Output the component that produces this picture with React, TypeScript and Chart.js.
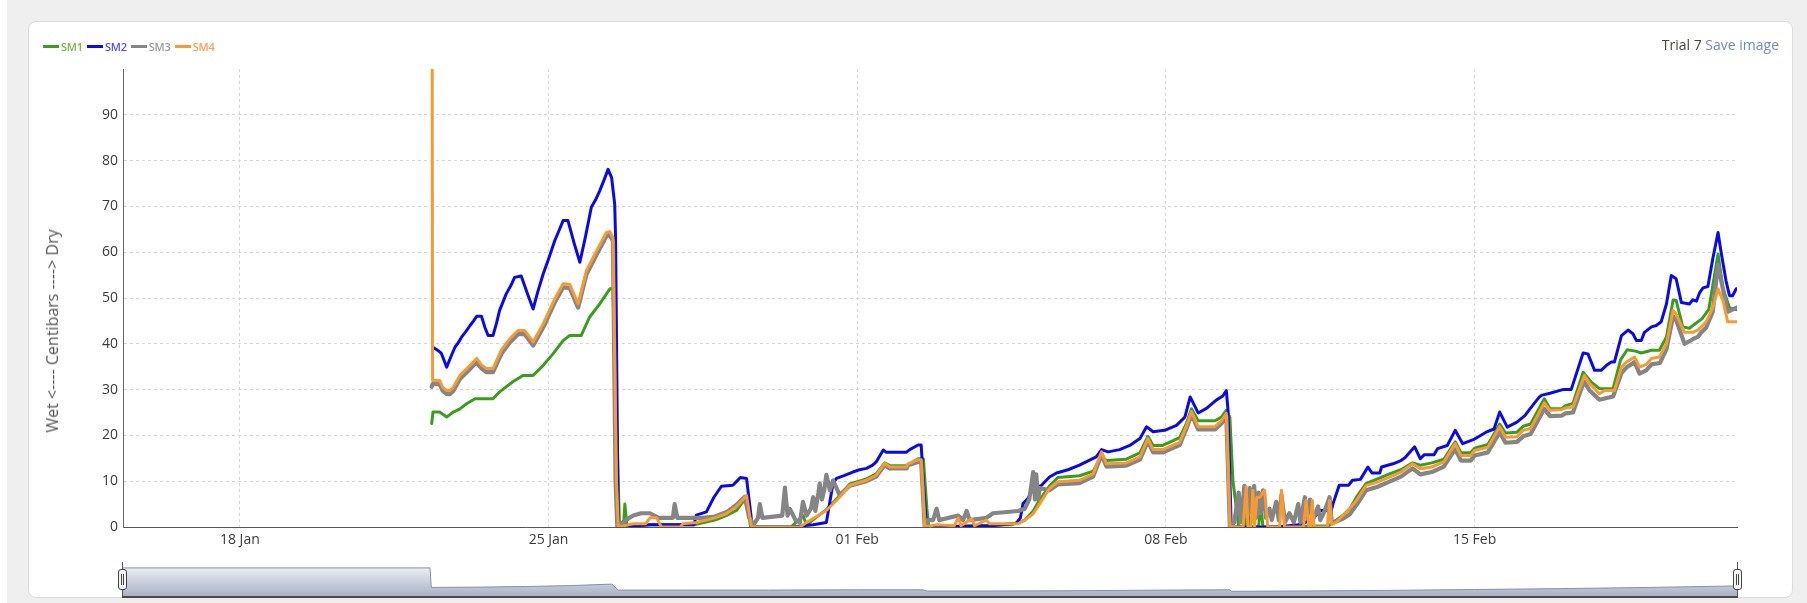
import React, { useEffect, useRef } from 'react';
import { Chart, registerables } from 'chart.js';

Chart.register(...registerables);

// ---------- axis data ----------
const X_MIN = 15.35; // days since 1 Jan (15 Jan ~08:00)
const X_MAX = 51.95; // 20 Feb ~23:00
const xTickDays = [18, 25, 32, 39, 46];
const xTickLabels = ['18 Jan', '25 Jan', '01 Feb', '08 Feb', '15 Feb'];
const Y_MAX = 100;
const Y_STEP = 10;

// ---------- series ----------
const seriesNames = ['SM1', 'SM2', 'SM3', 'SM4'];
const seriesColors = ['#3a9d1d', '#0a0ae8', '#858585', '#f89a32'];
const legendTextColors = ['#6cbd42', '#4f4ff6', '#9b9b9b', '#ff9d52'];

const sm1Days = [22.35, 22.38, 22.53, 22.69, 22.84, 22.99, 23.14, 23.33, 23.74, 23.89, 24.19, 24.42, 24.65, 24.88, 25.10, 25.33, 25.48, 25.74, 25.93, 26.16, 26.39, 26.46, 26.61, 26.70, 26.73, 26.78, 27.30, 28.30, 28.77, 29.03, 29.26, 29.49, 29.58, 30.50, 30.77, 30.85, 31.30, 31.60, 31.83, 32.21, 32.43, 32.62, 32.74, 33.12, 33.38, 33.50, 33.58, 33.62, 35.50, 35.80, 35.99, 36.14, 36.36, 36.55, 37.04, 37.35, 37.54, 37.65, 38.10, 38.41, 38.59, 38.71, 38.93, 39.31, 39.46, 39.58, 39.73, 40.11, 40.26, 40.37, 40.45, 40.52, 40.60, 40.65, 40.80, 40.85, 40.90, 41.10, 41.15, 41.20, 42.70, 42.86, 43.01, 43.17, 43.32, 43.54, 43.80, 44.07, 44.33, 44.59, 44.77, 45.03, 45.30, 45.56, 45.69, 45.91, 46.00, 46.30, 46.57, 46.70, 46.96, 47.10, 47.27, 47.58, 47.71, 47.97, 48.06, 48.23, 48.46, 48.64, 48.83, 49.14, 49.31, 49.46, 49.65, 49.78, 50.01, 50.19, 50.35, 50.50, 50.57, 50.72, 50.87, 50.98, 51.16, 51.31, 51.52, 51.63, 51.78, 51.97];
const sm1Values = [22.6, 25.1, 25.1, 24.0, 25.1, 25.8, 26.9, 28.0, 28.0, 29.5, 31.7, 33.1, 33.1, 35.3, 37.8, 40.7, 41.8, 41.8, 45.8, 48.7, 52.0, 52.0, 0, 0, 5.0, 0, 0.5, 0.5, 1.5, 2.5, 3.6, 6.6, 0, 0, 2.5, 0.5, 3.8, 6.8, 9.4, 10.5, 11.6, 14.0, 13.4, 13.4, 14.9, 14.9, 4.0, 0, 0.5, 1.5, 3.5, 6.0, 9.0, 10.8, 11.2, 12.2, 15.5, 14.5, 14.8, 16.2, 19.8, 17.8, 17.8, 19.5, 22.5, 25.8, 23.2, 23.2, 24.0, 25.5, 24.0, 10.0, 4.0, 0, 0, 4.0, 0, 0, 5.0, 0, 0.3, 1.5, 2.5, 4.0, 6.5, 9.5, 10.5, 11.6, 12.5, 14.0, 13.5, 14.0, 14.8, 18.6, 16.2, 16.2, 17.2, 18.0, 22.5, 20.5, 20.7, 22.0, 22.5, 28.0, 25.8, 25.8, 26.5, 27.0, 33.8, 31.7, 30.2, 30.2, 36.5, 38.7, 38.4, 38.0, 38.6, 38.6, 41.5, 49.5, 49.5, 43.7, 43.4, 44.2, 45.5, 47.5, 59.6, 52.2, 47.8, 47.4];

const sm2Days = [22.37, 22.50, 22.57, 22.69, 22.80, 22.88, 22.95, 23.03, 23.12, 23.22, 23.30, 23.37, 23.48, 23.56, 23.63, 23.74, 23.82, 23.89, 23.97, 24.04, 24.14, 24.23, 24.38, 24.52, 24.65, 24.76, 24.88, 25.01, 25.14, 25.24, 25.33, 25.44, 25.58, 25.71, 25.84, 25.97, 26.07, 26.16, 26.26, 26.35, 26.43, 26.50, 26.52, 26.58, 27.30, 27.60, 28.30, 28.35, 28.58, 28.75, 28.92, 29.18, 29.26, 29.35, 29.49, 29.56, 29.62, 30.50, 31.00, 31.30, 31.45, 31.53, 31.70, 31.90, 32.05, 32.21, 32.35, 32.43, 32.59, 32.66, 33.11, 33.19, 33.38, 33.45, 33.50, 33.57, 35.08, 35.60, 35.70, 35.76, 35.87, 35.99, 36.18, 36.36, 36.52, 36.78, 37.04, 37.27, 37.42, 37.54, 37.69, 37.95, 38.18, 38.41, 38.56, 38.71, 38.97, 39.24, 39.43, 39.55, 39.73, 39.92, 40.14, 40.29, 40.37, 40.41, 40.48, 41.50, 42.00, 42.30, 42.50, 42.75, 42.79, 42.93, 43.14, 43.23, 43.41, 43.58, 43.67, 43.85, 43.89, 44.15, 44.33, 44.42, 44.64, 44.77, 44.86, 45.08, 45.16, 45.38, 45.56, 45.73, 46.00, 46.26, 46.44, 46.57, 46.74, 46.96, 47.14, 47.32, 47.47, 47.53, 47.71, 48.00, 48.19, 48.46, 48.57, 48.72, 48.87, 48.99, 49.10, 49.17, 49.33, 49.48, 49.59, 49.67, 49.78, 49.85, 50.01, 50.12, 50.23, 50.35, 50.46, 50.57, 50.69, 50.87, 50.95, 51.03, 51.10, 51.18, 51.29, 51.40, 51.52, 51.59, 51.70, 51.78, 51.85, 51.93, 51.97];
const sm2Values = [39.3, 38.5, 37.9, 34.9, 37.5, 39.3, 40.2, 41.5, 42.6, 44.0, 45.0, 46.0, 46.0, 43.5, 41.8, 41.8, 44.5, 47.3, 49.2, 50.9, 52.6, 54.5, 54.8, 51.0, 47.6, 51.5, 55.3, 58.8, 62.5, 64.8, 66.9, 66.9, 62.0, 57.8, 63.5, 69.8, 71.5, 73.4, 75.8, 78.1, 76.3, 70.5, 63.2, 0, 0.5, 0.5, 0.5, 2.6, 3.3, 6.5, 8.9, 9.1, 9.9, 10.8, 10.6, 5.0, 0, 0, 0.5, 1.0, 9.5, 10.6, 11.2, 12.0, 12.5, 12.8, 13.5, 14.2, 16.8, 16.3, 16.3, 16.9, 17.9, 17.9, 10.0, 0, 0.3, 0.8, 2.0, 5.1, 6.2, 8.4, 9.1, 10.9, 11.8, 12.5, 13.5, 14.6, 15.3, 16.9, 16.4, 16.9, 17.8, 19.3, 21.9, 20.8, 21.1, 22.2, 24.0, 28.4, 24.9, 25.9, 27.7, 28.6, 29.8, 25.3, 0, 0, 0.5, 1.5, 3.6, 3.6, 5.1, 9.1, 9.1, 10.2, 10.4, 13.1, 11.8, 11.8, 13.1, 13.8, 14.5, 15.1, 17.5, 14.9, 15.8, 15.8, 17.1, 17.8, 21.1, 18.2, 19.2, 20.7, 21.4, 25.1, 21.8, 22.9, 24.3, 26.6, 28.4, 28.8, 29.2, 30.0, 30.0, 38.0, 37.8, 34.2, 34.2, 35.3, 36.0, 36.0, 41.8, 43.0, 42.2, 40.7, 40.7, 42.5, 43.7, 44.0, 44.8, 48.7, 54.9, 54.2, 49.0, 48.7, 49.6, 49.3, 51.1, 52.2, 52.5, 58.5, 64.3, 60.0, 53.8, 50.5, 50.5, 52.0, 52.0];

const sm3Days = [22.35, 22.37, 22.53, 22.60, 22.69, 22.76, 22.84, 22.99, 23.18, 23.37, 23.48, 23.59, 23.74, 23.93, 24.12, 24.31, 24.46, 24.65, 24.88, 25.14, 25.33, 25.48, 25.67, 25.86, 26.09, 26.31, 26.39, 26.46, 26.52, 26.56, 26.75, 26.92, 27.10, 27.30, 27.50, 27.82, 27.86, 27.92, 28.50, 28.77, 29.03, 29.26, 29.45, 29.55, 29.65, 29.75, 29.79, 29.85, 30.30, 30.36, 30.42, 30.47, 30.60, 30.70, 30.77, 30.85, 30.95, 31.00, 31.05, 31.12, 31.15, 31.20, 31.25, 31.30, 31.38, 31.45, 31.60, 31.83, 32.21, 32.43, 32.62, 32.74, 33.12, 33.15, 33.38, 33.45, 33.53, 33.60, 33.72, 33.80, 33.86, 34.29, 34.40, 34.48, 34.55, 34.93, 35.08, 35.65, 35.80, 35.90, 35.99, 36.03, 36.06, 36.10, 36.14, 36.36, 36.55, 37.04, 37.35, 37.54, 37.65, 38.10, 38.41, 38.59, 38.71, 38.93, 39.31, 39.46, 39.58, 39.73, 40.11, 40.26, 40.37, 40.45, 40.55, 40.65, 40.70, 40.78, 40.84, 40.90, 40.95, 41.00, 41.05, 41.10, 41.15, 41.20, 41.27, 41.35, 41.40, 41.50, 41.56, 41.62, 41.70, 41.80, 41.90, 42.00, 42.05, 42.15, 42.20, 42.27, 42.33, 42.45, 42.50, 42.60, 42.71, 42.76, 42.86, 43.01, 43.17, 43.32, 43.54, 43.80, 44.07, 44.33, 44.59, 44.77, 45.03, 45.30, 45.56, 45.69, 45.91, 46.00, 46.30, 46.57, 46.70, 46.96, 47.10, 47.27, 47.58, 47.71, 47.97, 48.06, 48.23, 48.48, 48.61, 48.83, 49.14, 49.33, 49.44, 49.63, 49.74, 49.89, 50.01, 50.20, 50.35, 50.50, 50.57, 50.76, 50.95, 51.06, 51.14, 51.25, 51.40, 51.52, 51.63, 51.74, 51.85, 51.97];
const sm3Values = [30.6, 31.2, 31.2, 29.7, 29.0, 29.0, 29.7, 32.3, 34.1, 36.0, 34.6, 33.8, 33.8, 37.8, 40.3, 42.1, 42.1, 39.6, 43.6, 49.0, 52.3, 52.2, 47.9, 55.2, 59.5, 63.5, 63.8, 62.5, 10.0, 0, 1.5, 2.5, 3.0, 3.0, 2.0, 2.0, 5.0, 2.0, 2.0, 2.3, 3.2, 4.8, 6.6, 2.0, 0.5, 2.0, 5.0, 2.0, 2.5, 8.6, 2.5, 4.0, 1.5, 1.0, 5.5, 2.5, 4.0, 6.5, 3.5, 7.5, 9.5, 6.0, 8.0, 11.4, 8.0, 10.2, 7.0, 9.0, 10.0, 11.0, 13.5, 12.8, 12.8, 13.5, 14.2, 14.2, 0, 1.5, 1.5, 4.0, 1.5, 2.5, 1.5, 3.5, 1.5, 2.0, 3.0, 3.5, 4.0, 6.0, 12.0, 6.0, 11.5, 6.0, 8.5, 8.0, 9.3, 9.6, 11.0, 15.8, 13.2, 13.4, 14.7, 18.7, 16.3, 16.3, 17.9, 21.3, 24.6, 21.3, 21.3, 22.6, 24.2, 0, 1.0, 7.5, 1.0, 9.0, 2.0, 8.5, 3.0, 9.0, 2.0, 7.5, 3.0, 8.0, 2.0, 4.0, 1.5, 5.5, 1.5, 7.0, 1.0, 3.0, 1.0, 5.0, 1.0, 6.5, 2.0, 6.0, 1.5, 4.5, 1.5, 3.5, 6.5, 1.0, 1.2, 1.8, 2.8, 4.8, 8.0, 8.8, 9.9, 11.0, 12.8, 11.5, 12.0, 13.2, 17.0, 14.5, 14.5, 15.6, 16.3, 20.7, 18.4, 18.6, 19.8, 20.3, 25.8, 24.2, 24.3, 24.8, 25.0, 31.8, 29.8, 27.8, 28.5, 33.6, 34.8, 36.0, 33.5, 34.2, 35.5, 35.8, 38.8, 46.0, 45.2, 40.0, 41.0, 41.5, 42.5, 43.5, 47.0, 57.3, 52.0, 47.0, 47.5, 48.0];

const sm4Days = [22.35, 22.37, 22.53, 22.60, 22.69, 22.76, 22.84, 22.99, 23.18, 23.37, 23.48, 23.59, 23.74, 23.93, 24.12, 24.31, 24.46, 24.65, 24.88, 25.14, 25.33, 25.48, 25.67, 25.86, 26.09, 26.31, 26.39, 26.46, 26.54, 26.58, 26.92, 27.20, 27.30, 27.45, 27.56, 27.98, 28.05, 28.35, 28.77, 29.03, 29.26, 29.49, 29.60, 30.70, 30.85, 31.30, 31.60, 31.83, 32.21, 32.43, 32.62, 32.74, 33.12, 33.15, 33.38, 33.45, 33.53, 33.80, 34.20, 34.29, 34.35, 34.60, 34.66, 34.93, 35.00, 35.65, 35.80, 35.99, 36.14, 36.36, 36.55, 37.04, 37.35, 37.54, 37.65, 38.10, 38.41, 38.59, 38.71, 38.93, 39.31, 39.46, 39.58, 39.73, 40.11, 40.26, 40.37, 40.45, 40.75, 40.82, 40.86, 40.93, 40.97, 41.01, 41.06, 41.13, 41.24, 41.31, 41.58, 41.62, 41.69, 42.12, 42.18, 42.24, 42.28, 42.32, 42.36, 42.66, 42.71, 42.76, 42.86, 43.01, 43.10, 43.32, 43.54, 43.80, 44.07, 44.33, 44.59, 44.77, 45.03, 45.30, 45.56, 45.69, 45.91, 46.00, 46.30, 46.57, 46.70, 46.96, 47.10, 47.27, 47.58, 47.71, 47.97, 48.06, 48.23, 48.49, 48.61, 48.83, 48.95, 49.17, 49.33, 49.44, 49.63, 49.74, 49.89, 50.01, 50.19, 50.35, 50.50, 50.57, 50.76, 50.95, 51.06, 51.14, 51.25, 51.40, 51.52, 51.63, 51.74, 51.97];
const sm4Values = [200, 32.0, 32.0, 30.5, 29.8, 29.8, 30.5, 33.1, 34.9, 36.8, 35.4, 34.6, 34.6, 38.6, 41.1, 42.9, 42.9, 40.4, 44.4, 49.8, 53.1, 53.0, 48.7, 56.0, 60.3, 64.3, 64.5, 63.2, 10.0, 0, 0.7, 0.7, 2.0, 2.0, 0, 0, 0.7, 1.0, 2.0, 2.9, 4.4, 6.9, 0, 0, 1.0, 3.6, 6.5, 9.1, 10.2, 11.3, 13.9, 13.1, 13.1, 13.8, 14.7, 14.7, 0, 0.5, 0.3, 2.0, 0.3, 1.8, 0.3, 1.5, 0.7, 0.7, 1.5, 2.9, 5.1, 8.4, 9.9, 10.2, 11.6, 16.4, 13.8, 14.0, 15.3, 19.3, 16.9, 16.9, 18.5, 21.9, 25.2, 21.9, 21.9, 23.2, 24.8, 0, 0, 8.8, 0, 0, 8.0, 0, 6.5, 6.5, 8.0, 0, 0, 8.0, 0, 0, 5.8, 0, 0, 5.8, 0, 0, 5.8, 0.5, 1.0, 2.5, 3.3, 5.8, 9.1, 9.8, 10.9, 12.0, 13.8, 12.7, 13.1, 14.2, 18.2, 15.6, 15.6, 16.7, 17.4, 21.9, 19.6, 19.7, 21.1, 21.5, 27.1, 25.5, 25.6, 26.0, 26.2, 33.1, 31.3, 29.1, 29.8, 29.8, 34.9, 36.0, 37.1, 34.9, 35.5, 36.8, 37.1, 40.0, 47.3, 46.5, 42.5, 42.5, 43.0, 43.7, 44.8, 47.8, 52.0, 49.5, 44.8, 44.8];

const seriesDays = [sm1Days, sm2Days, sm3Days, sm4Days];
const seriesValues = [sm1Values, sm2Values, sm3Values, sm4Values];
const seriesWidths = [3, 3, 4.2, 3];

// ---------- navigator (overview) series ----------
const navDays = [15.35, 22.33, 22.36, 23.5, 24.5, 25.5, 26.45, 26.6, 28, 30, 32, 33.5, 33.6, 35, 37, 39, 40.45, 40.5, 42, 44, 46, 48, 50, 51.95];
const navValues = [97, 97, 32, 33, 35, 38, 43, 23, 23, 23, 24, 24, 20, 20, 21, 23, 24, 19, 20, 22, 25, 28, 32, 37];

const FONT = "'Open Sans', 'Noto Sans', sans-serif";

function dayLabel(v: number): string {
  const i = xTickDays.indexOf(v);
  return i >= 0 ? xTickLabels[i] : '';
}

export default function App() {
  const mainRef = useRef<HTMLCanvasElement | null>(null);
  const navRef = useRef<HTMLCanvasElement | null>(null);

  useEffect(() => {
    if (!mainRef.current || !navRef.current) return;
    const datasets = seriesNames.map((name, i) => ({
      label: name,
      data: seriesDays[i].map((d, j) => ({ x: d, y: seriesValues[i][j] })),
      borderColor: seriesColors[i],
      backgroundColor: seriesColors[i],
      borderWidth: seriesWidths[i],
      pointRadius: 0,
      tension: 0,
      fill: false,
      borderJoinStyle: 'round' as const,
      borderCapStyle: 'round' as const,
      order: 3 - i,
    }));

    const main = new Chart(mainRef.current, {
      type: 'line',
      data: { datasets },
      options: {
        animation: false,
        responsive: false,
        maintainAspectRatio: false,
        devicePixelRatio: 1,
        layout: { padding: { top: 69, right: 70, bottom: 0, left: 0 } },
        plugins: { legend: { display: false }, tooltip: { enabled: false }, title: { display: false } },
        scales: {
          x: {
            type: 'linear',
            min: X_MIN,
            max: X_MAX,
            afterBuildTicks: (s: any) => {
              s.ticks = xTickDays.map((v) => ({ value: v }));
            },
            afterFit: (s: any) => {
              s.height = 33;
            },
            ticks: {
              callback: (v: any) => dayLabel(Number(v)),
              color: '#3a3a3a',
              font: { family: FONT, size: 14 },
              padding: 5,
              maxRotation: 0,
              autoSkip: false,
            },
            grid: { color: '#d6d6d6', lineWidth: 1, drawTicks: false },
            border: { display: true, color: '#555', width: 1, dash: [3, 3] },
          },
          y: {
            min: 0,
            max: Y_MAX,
            afterFit: (s: any) => {
              s.width = 123;
            },
            ticks: {
              stepSize: Y_STEP,
              callback: (v: any) => (Number(v) === Y_MAX ? '' : String(v)),
              color: '#3a3a3a',
              font: { family: FONT, size: 14 },
              padding: 5,
            },
            grid: {
              drawTicks: false,
              lineWidth: 1,
              color: (c: any) => (c.tick && (c.tick.value === Y_MAX || c.tick.value === 0) ? 'rgba(0,0,0,0)' : '#d6d6d6'),
            },
            border: { display: true, color: '#666', width: 1, dash: [3, 3] },
          },
        },
      },
    });

    const nav = new Chart(navRef.current, {
      type: 'line',
      data: {
        datasets: [
          {
            data: navDays.map((d, j) => ({ x: d, y: navValues[j] })),
            borderColor: '#8291b0',
            borderWidth: 1,
            pointRadius: 0,
            tension: 0,
            fill: 'origin',
            backgroundColor: (c: any) => {
              const area = c.chart.chartArea;
              if (!area) return '#c4cbd9';
              const g = c.chart.ctx.createLinearGradient(0, area.top, 0, area.bottom);
              g.addColorStop(0, '#eceef3');
              g.addColorStop(1, '#a6b0c5');
              return g;
            },
          },
        ],
      },
      options: {
        animation: false,
        responsive: false,
        maintainAspectRatio: false,
        devicePixelRatio: 1,
        layout: { padding: { top: 7, right: 70, bottom: 6, left: 122 } },
        plugins: { legend: { display: false }, tooltip: { enabled: false } },
        scales: {
          x: { type: 'linear', min: X_MIN, max: X_MAX, display: false },
          y: { min: 0, max: 100, display: false },
        },
      },
    });

    return () => {
      main.destroy();
      nav.destroy();
    };
  }, []);

  const handle = (left: number) => (
    <>
      <div style={{ position: 'absolute', left: left, top: 562, width: 1, height: 35, background: '#555' }} />
      <div
        style={{
          position: 'absolute',
          left: left - 4,
          top: 569,
          width: 9,
          height: 21,
          background: '#f4f4f4',
          border: '1px solid #444',
          borderRadius: 3,
          boxSizing: 'border-box',
        }}
      >
        <div style={{ position: 'absolute', left: 2, top: 4, width: 1, height: 11, background: '#444' }} />
        <div style={{ position: 'absolute', left: 4, top: 4, width: 1, height: 11, background: '#444' }} />
      </div>
    </>
  );

  return (
    <div style={{ position: 'absolute', left: 0, top: 0, width: 1807, height: 603, background: '#ffffff', overflow: 'hidden', fontFamily: FONT }}>
      <div style={{ position: 'absolute', left: 7, top: 0, right: 0, bottom: 0, background: '#efefef' }} />
      <div
        style={{
          position: 'absolute',
          left: 28,
          top: 21,
          width: 1765,
          height: 577,
          background: '#fff',
          border: '1px solid #dcdcdc',
          borderRadius: 8,
          boxSizing: 'border-box',
        }}
      />
      <canvas ref={mainRef} width={1807} height={560} style={{ position: 'absolute', left: 0, top: 0, width: 1807, height: 560 }} />
      <canvas ref={navRef} width={1807} height={43} style={{ position: 'absolute', left: 0, top: 560, width: 1807, height: 43 }} />
      <div style={{ position: 'absolute', left: 122, top: 596, width: 1616, height: 2, background: '#4a4a4a' }} />
      {handle(122)}
      {handle(1737)}

      {/* legend */}
      <div style={{ position: 'absolute', left: 43, top: 38, height: 16, display: 'flex', alignItems: 'center', fontSize: 11, fontWeight: 600, letterSpacing: -0.2 }}>
        {seriesNames.map((n, i) => (
          <div key={n} style={{ display: 'flex', alignItems: 'center', marginRight: 4 }}>
            <div style={{ width: 16, height: 3, background: seriesColors[i], marginRight: 2 }} />
            <span style={{ color: legendTextColors[i] }}>{n}</span>
          </div>
        ))}
      </div>

      {/* top right */}
      <div style={{ position: 'absolute', right: 1807 - 1779, top: 35, fontSize: 14, whiteSpace: 'nowrap' }}>
        <span style={{ color: '#4a4540' }}>Trial 7</span>{' '}
        <span style={{ color: '#7189c8' }}>Save image</span>
      </div>

      {/* y axis title */}
      <div
        style={{
          position: 'absolute',
          left: 52,
          top: 331,
          transform: 'translate(-50%, -50%) rotate(-90deg)',
          whiteSpace: 'nowrap',
          fontSize: 16,
          color: '#555',
        }}
      >
        {'Wet <---- Centibars ----> Dry'}
      </div>
    </div>
  );
}
